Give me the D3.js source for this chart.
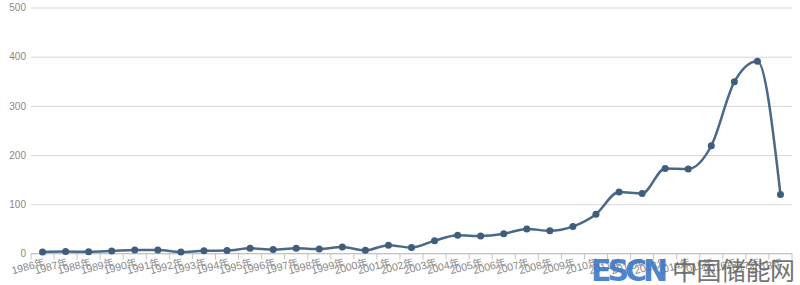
<!DOCTYPE html>
<html>
<head>
<meta charset="utf-8">
<script src="https://cdn.jsdelivr.net/npm/d3@7"></script>
<style>
  body { margin: 0; background: #fff; }
  svg { display: block; font-family: "Liberation Sans", "Noto Sans CJK SC", sans-serif; }
</style>
</head>
<body>
<div id="chart"></div>
<script>
const years = ['1986', '1987', '1988', '1989', '1990', '1991', '1992', '1993', '1994', '1995',
  '1996', '1997', '1998', '1999', '2000', '2001', '2002', '2003', '2004', '2005', '2006',
  '2007', '2008', '2009', '2010', '2011', '2012', '2013', '2014', '2015', '2016', '2017', '2018'];
const values = [3, 4, 3.5, 5, 7, 7, 3, 5.5, 6, 10.5,
  8, 10.5, 9, 13, 6.5, 17, 12, 26, 37, 35.5, 40,
  50, 46, 55, 80, 125, 122, 173, 172, 219, 349, 391, 120];
const yTicks = [0, 100, 200, 300, 400, 500];

const width = 800;
const height = 285;
const margin = { top: 7.5, right: 8, bottom: 31.5, left: 31 };

const svg = d3.select('#chart').append('svg')
  .attr('width', width)
  .attr('height', height);

const x = d3.scaleBand()
  .domain(years)
  .range([margin.left, width - margin.right]);

const y = d3.scaleLinear()
  .domain([0, 500])
  .range([height - margin.bottom, margin.top]);

// grid lines + y labels
const yAxis = svg.append('g')
  .attr('transform', `translate(${margin.left}, 0)`)
  .call(d3.axisLeft(y).tickValues(yTicks).tickSize(-(width - margin.left - margin.right)).tickPadding(5));
yAxis.select('.domain').remove();
yAxis.selectAll('line').attr('stroke', '#d6d6d6').attr('stroke-width', 1);
yAxis.selectAll('text').attr('fill', '#888').attr('font-size', '10px');

// x axis (ticks between categories)
const xAxis = svg.append('g')
  .attr('transform', `translate(0, ${y(0)})`);
xAxis.append('line')
  .attr('x1', margin.left).attr('x2', width - margin.right)
  .attr('stroke', '#c4c4c4');
xAxis.selectAll('.tick-mark')
  .data(years.concat(['end']))
  .enter().append('line')
  .attr('class', 'tick-mark')
  .attr('x1', (d, i) => i < years.length ? x(d) : x(years[years.length - 1]) + x.bandwidth())
  .attr('x2', (d, i) => i < years.length ? x(d) : x(years[years.length - 1]) + x.bandwidth())
  .attr('y1', 0).attr('y2', 6)
  .attr('stroke', '#c4c4c4');
xAxis.selectAll('.xlabel')
  .data(years)
  .enter().append('text')
  .attr('class', 'xlabel')
  .attr('transform', d => `translate(${x(d) + x.bandwidth() / 2 + 1}, 5) rotate(-15)`)
  .attr('text-anchor', 'end')
  .attr('dy', '0.7em')
  .attr('fill', '#888')
  .attr('font-size', '10.5px')
  .text(d => d + '年');

// line
const pts = years.map((yr, i) => [x(yr) + x.bandwidth() / 2, y(values[i])]);
svg.append('path')
  .datum(pts)
  .attr('fill', 'none')
  .attr('stroke', '#4a6888')
  .attr('stroke-width', 2.5)
  .attr('d', d3.line().curve(d3.curveMonotoneX));

svg.append('g')
  .selectAll('circle')
  .data(pts)
  .enter().append('circle')
  .attr('cx', d => d[0])
  .attr('cy', d => d[1])
  .attr('r', 3.5)
  .attr('fill', '#3f5d7d');

// watermark
const wm = svg.append('g').attr('opacity', 0.9);
wm.append('text')
  .attr('x', 591).attr('y', 281)
  .attr('font-family', 'DejaVu Sans, sans-serif')
  .attr('font-weight', 'bold')
  .attr('font-size', '30px')
  .attr('textLength', 77)
  .attr('fill', '#3b78c8')
  .text('ESCN');
wm.append('text')
  .attr('x', 672).attr('y', 280)
  .attr('font-family', '"Noto Sans CJK SC", sans-serif')
  .attr('font-size', '25px')
  .attr('fill', '#666')
  .attr('textLength', 123)
  .text('中国储能网');
</script>
</body>
</html>
